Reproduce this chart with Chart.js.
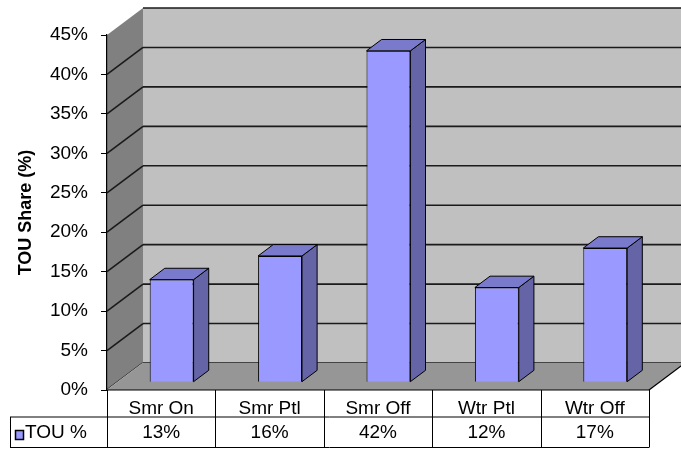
<!DOCTYPE html>
<html>
<head>
<meta charset="utf-8">
<script src="https://cdn.jsdelivr.net/npm/chart.js@4.4.1/dist/chart.umd.min.js"></script>
<style>
  html, body { margin: 0; padding: 0; background: #fff; }
  canvas { display: block; }
</style>
</head>
<body>
<canvas id="chart" width="681" height="449"></canvas>
<script>
// ---- data ----
const categories = ['Smr On', 'Smr Ptl', 'Smr Off', 'Wtr Ptl', 'Wtr Off'];
const touShare = [13, 16, 42, 12, 17];
const seriesName = 'TOU %';
const axisTitle = 'TOU Share (%)';
const yMin = 0, yMax = 45, yStep = 5;

// ---- look ----
const FONT = '"Liberation Sans", Arial, sans-serif';
const DEPTH = { dx: 36, dy: -27 };      // depth of the floor / side wall
const BAR_GAP = 0.29, BAR_DEPTH = 0.42; // bar placement within the depth
const COLORS = {
  backWall: '#c0c0c0', sideWall: '#808080', floor: '#969696',
  barFront: '#9999ff', barTop: '#7a7acc', barSide: '#6464a6'
};
const TABLE = { left: 10, rowSplit: 417, bottom: 447.5 };

function poly(ctx, pts, fill, stroke, lw) {
  ctx.beginPath();
  ctx.moveTo(pts[0][0], pts[0][1]);
  for (let i = 1; i < pts.length; i++) ctx.lineTo(pts[i][0], pts[i][1]);
  ctx.closePath();
  if (fill) { ctx.fillStyle = fill; ctx.fill(); }
  if (stroke) { ctx.strokeStyle = stroke; ctx.lineWidth = lw || 1; ctx.stroke(); }
}

function line(ctx, x1, y1, x2, y2, color, lw) {
  ctx.beginPath();
  ctx.moveTo(x1, y1);
  ctx.lineTo(x2, y2);
  ctx.strokeStyle = color;
  ctx.lineWidth = lw;
  ctx.stroke();
}

// walls, floor, gridlines, 3D bar faces and the data table
const scene3d = {
  id: 'scene3d',
  beforeDraw(chart) {
    const { ctx, chartArea: a, scales: { y } } = chart;
    const { dx, dy } = DEPTH;
    const L = a.left, R = a.right, T = a.top, B = a.bottom, W = chart.width;
    ctx.save();
    // back wall
    ctx.fillStyle = COLORS.backWall;
    ctx.fillRect(L + dx, T + dy, W - (L + dx), B - T);
    // side wall
    poly(ctx, [[L, T], [L + dx, T + dy], [L + dx, B + dy], [L, B]], COLORS.sideWall);
    // gridlines on both walls
    for (let v = yMin; v <= yMax; v += yStep) {
      const py = y.getPixelForValue(v);
      line(ctx, L + dx, py + dy, W, py + dy, '#1a1a1a', 1.6);
      if (v < yMax) line(ctx, L, py, L + dx, py + dy, '#1a1a1a', 1.6);
    }
    // floor
    poly(ctx, [[L, B], [R, B], [R + dx, B + dy], [L + dx, B + dy]], COLORS.floor);
    line(ctx, L, B, L + dx, B + dy, '#adadad', 1);
    line(ctx, R, B, R + dx, B + dy, '#000', 1.2);
    line(ctx, L, B, R, B, '#000', 1.2);
    ctx.restore();
  },
  beforeDatasetsDraw(chart) {
    chart.ctx.save();
    chart.ctx.translate(DEPTH.dx * BAR_GAP, DEPTH.dy * BAR_GAP);
  },
  afterDatasetsDraw(chart) {
    const { ctx } = chart;
    const bx = DEPTH.dx * BAR_DEPTH, by = DEPTH.dy * BAR_DEPTH;
    chart.getDatasetMeta(0).data.forEach(bar => {
      const { x, y, base, width } = bar.getProps(['x', 'y', 'base', 'width'], true);
      const l = x - width / 2, r = x + width / 2;
      ctx.lineJoin = 'round';
      poly(ctx, [[r, y], [r + bx, y + by], [r + bx, base + by], [r, base]], COLORS.barSide, '#000', 1);
      poly(ctx, [[l, y], [l + bx, y + by], [r + bx, y + by], [r, y]], COLORS.barTop, '#000', 1);
    });
    ctx.restore();
  },
  afterDraw(chart) {
    const { ctx, chartArea: a, scales: { x } } = chart;
    const n = categories.length;
    const step = (a.right - a.left) / n;
    const B = a.bottom;
    ctx.save();
    // table grid
    line(ctx, TABLE.left, TABLE.rowSplit, a.right, TABLE.rowSplit, '#000', 1);
    line(ctx, TABLE.left, TABLE.bottom, a.right, TABLE.bottom, '#000', 1);
    line(ctx, TABLE.left + 0.5, TABLE.rowSplit, TABLE.left + 0.5, TABLE.bottom, '#000', 1);
    for (let i = 0; i <= n; i++) {
      const px = Math.round(x.getPixelForValue(0) - step / 2 + i * step) + 0.5;
      line(ctx, px, B, px, TABLE.bottom, '#000', 1);
    }
    // series row
    const rowY = (TABLE.rowSplit + TABLE.bottom) / 2 + 1;
    ctx.fillStyle = COLORS.barFront;
    ctx.fillRect(15.5, 430.5, 8, 9);
    ctx.strokeStyle = '#000';
    ctx.lineWidth = 1.5;
    ctx.strokeRect(15.5, 430.5, 8, 9);
    ctx.fillStyle = '#000';
    ctx.font = '19px ' + FONT;
    ctx.textBaseline = 'middle';
    ctx.textAlign = 'left';
    ctx.fillText(seriesName, 25, rowY);
    ctx.textAlign = 'center';
    touShare.forEach((v, i) => ctx.fillText(v + '%', x.getPixelForValue(i), rowY));
    ctx.restore();
  }
};

new Chart(document.getElementById('chart'), {
  type: 'bar',
  data: {
    labels: categories,
    datasets: [{
      label: seriesName,
      data: touShare,
      backgroundColor: COLORS.barFront,
      borderColor: '#000',
      borderWidth: 1,
      categoryPercentage: 1,
      barPercentage: 0.405,
      clip: false
    }]
  },
  options: {
    responsive: false,
    devicePixelRatio: 1,
    animation: false,
    layout: { padding: { top: 35, right: 32, left: 0, bottom: 0 } },
    plugins: { legend: { display: false }, tooltip: { enabled: false } },
    scales: {
      x: {
        grid: { display: false, drawTicks: false },
        border: { display: false },
        ticks: { color: '#000', font: { family: FONT, size: 19 }, padding: 7, maxRotation: 0 },
        afterFit(s) { s.height = 59; }
      },
      y: {
        min: yMin, max: yMax,
        ticks: { stepSize: yStep, color: '#000', font: { family: FONT, size: 19 }, padding: 13,
                 callback: v => v + '%' },
        grid: { drawOnChartArea: false, drawTicks: true, tickLength: 6, color: '#000' },
        border: { display: true, color: '#000', width: 1.2 },
        title: { display: true, text: axisTitle, color: '#000',
                 font: { family: FONT, size: 18, weight: 'bold' }, padding: { top: 15, bottom: 0 } },
        afterFit(s) { s.width = 107; }
      }
    }
  },
  plugins: [scene3d]
});
</script>
</body>
</html>
